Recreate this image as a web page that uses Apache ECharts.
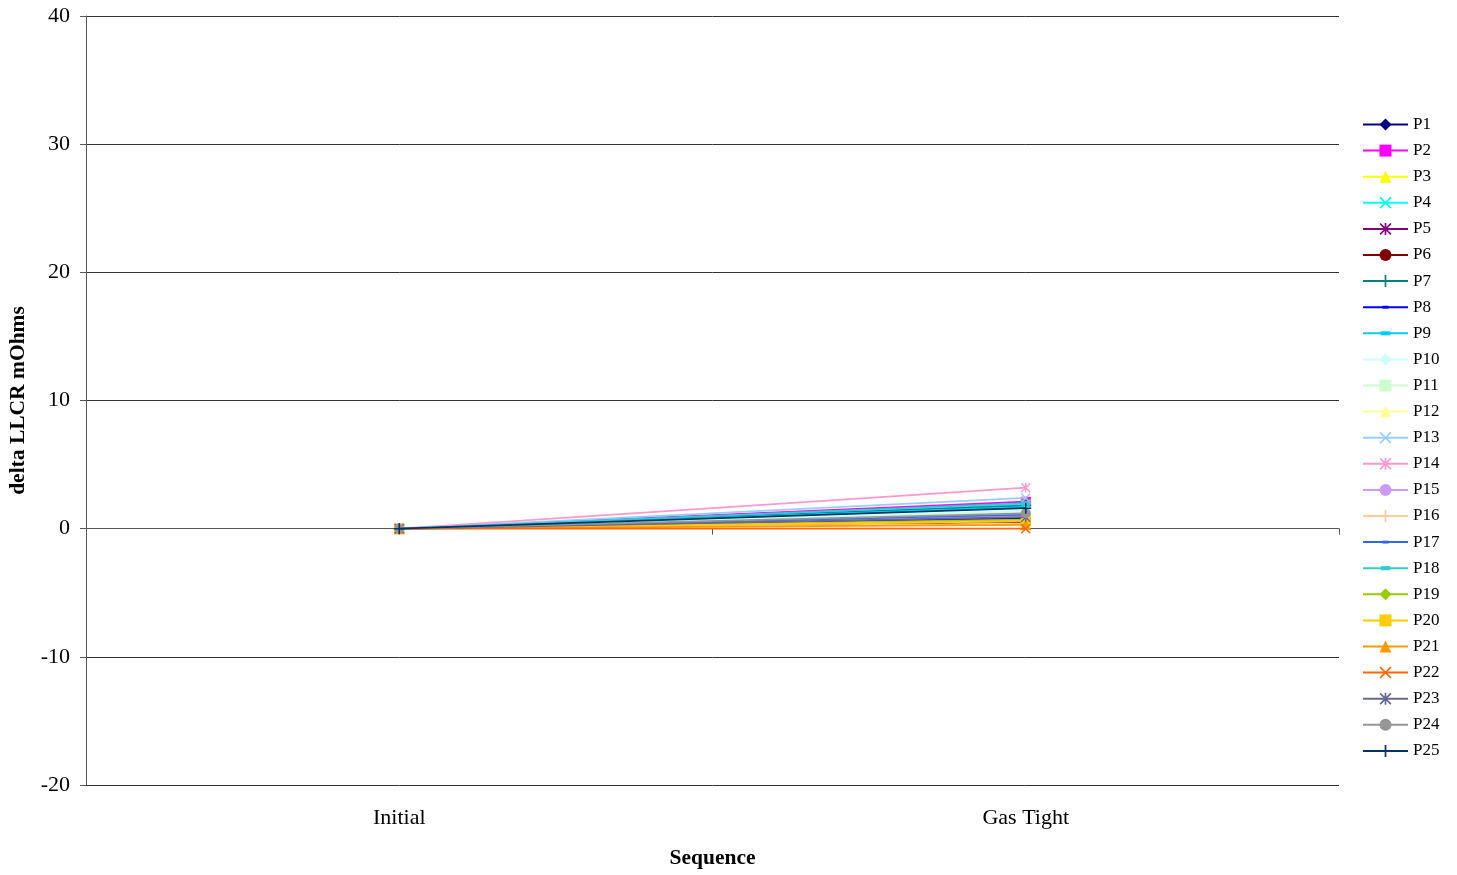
<!DOCTYPE html>
<html>
<head>
<meta charset="utf-8">
<script src="https://cdn.jsdelivr.net/npm/echarts@6/dist/echarts.min.js"></script>
<style>
html,body{margin:0;padding:0;background:#fff;}
#chart{width:1457px;height:875px;}
</style>
</head>
<body>
<div id="chart"></div>
<script>
const categories = ["Initial", "Gas Tight"];
const seriesNames = ["P1","P2","P3","P4","P5","P6","P7","P8","P9","P10","P11","P12","P13","P14","P15","P16","P17","P18","P19","P20","P21","P22","P23","P24","P25"];
const initialValues = [0,0,0,0,0,0,0,0,0,0,0,0,0,0,0,0,0,0,0,0,0,0,0,0,0];
const gasTightValues = [0.8,2.1,0.6,1.9,0.7,0.5,1.8,0.9,1.7,1.4,1.3,0.6,2.4,3.2,1.0,0.4,1.1,2.0,0.7,0.6,0.3,0.0,0.9,1.2,1.6];
const yTicks = [-20,-10,0,10,20,30,40];

const colors = ["#000080","#FF00FF","#FFFF00","#00FFFF","#800080","#800000","#008080","#0000FF","#00CCFF","#CCFFFF","#CCFFCC","#FFFF99","#99CCFF","#FF99CC","#CC99FF","#FFCC99","#3366FF","#33CCCC","#99CC00","#FFCC00","#FF9900","#FF6600","#666699","#969696","#003366"];

const X = 'path://M0,1L1,0L5,4L9,0L10,1L6,5L10,9L9,10L5,6L1,10L0,9L4,5Z';
const AST = 'path://M0,1L1,0L5,4L9,0L10,1L6,5L10,9L9,10L5,6L1,10L0,9L4,5ZM4.3,0L5.7,0L5.7,10L4.3,10Z';
const PLUS = 'path://M4.3,0H5.7V4.3H10V5.7H5.7V10H4.3V5.7H0V4.3H4.3Z';
const DASH_S = 'path://M0,0L0,0M10,10L10,10M2.5,3.8H7.5V6.2H2.5Z';
const DASH_L = 'path://M0,0L0,0M10,10L10,10M1,3.3H9V6.7H1Z';
const symbols = [
  ['diamond',11],['rect',10],['triangle',11],[X,10],[AST,10],['circle',10],[PLUS,11],[DASH_S,11],[DASH_L,11],
  ['diamond',11],['rect',10],['triangle',11],[X,10],[AST,10],['circle',10],[PLUS,11],[DASH_S,11],[DASH_L,11],
  ['diamond',11],['rect',10],['triangle',11],[X,10],[AST,10],['circle',10],[PLUS,11]
];

const chart = echarts.init(document.getElementById('chart'));
const series = seriesNames.map((n,i)=>({
  name:n,
  type:'line',
  data:[initialValues[i], gasTightValues[i]],
  symbol:symbols[i][0],
  symbolSize:symbols[i][1],
  showAllSymbol:true,
  lineStyle:{color:colors[i],width:1.8},
  itemStyle:{color:colors[i]},
  z:2+i
}));

chart.setOption({
  animation:false,
  backgroundColor:'#fff',
  grid:{left:86,right:118,top:16,bottom:90,containLabel:false,outerBoundsMode:'none'},
  legend:{
    orient:'vertical',
    left:1357,
    top:111,
    itemWidth:45,
    itemHeight:15,
    itemGap:9.1,
    textStyle:{fontFamily:'Liberation Serif',fontSize:17,color:'#000'},
    data:seriesNames
  },
  xAxis:{
    type:'category',
    data:categories,
    boundaryGap:true,
    name:'Sequence',
    nameLocation:'middle',
    nameGap:62,
    nameTextStyle:{fontFamily:'Liberation Serif',fontSize:21.5,fontWeight:'bold',color:'#000'},
    axisLine:{lineStyle:{color:'#555',width:1}},
    axisTick:{show:true,length:6,lineStyle:{color:'#555'}},
    axisLabel:{fontFamily:'Liberation Serif',fontSize:22,color:'#000',margin:22}
  },
  yAxis:{
    type:'value',
    min:-20,max:40,interval:10,
    name:'delta LLCR mOhms',
    nameLocation:'middle',
    nameGap:55,
    nameTextStyle:{fontFamily:'Liberation Serif',fontSize:21.5,fontWeight:'bold',color:'#000'},
    axisLine:{show:true,lineStyle:{color:'#555',width:1}},
    axisTick:{show:true,length:6,lineStyle:{color:'#555'}},
    axisLabel:{fontFamily:'Liberation Serif',fontSize:22,color:'#000',margin:16},
    splitLine:{show:true,lineStyle:{color:'#333',width:1}}
  },
  series:series
});
</script>
</body>
</html>
